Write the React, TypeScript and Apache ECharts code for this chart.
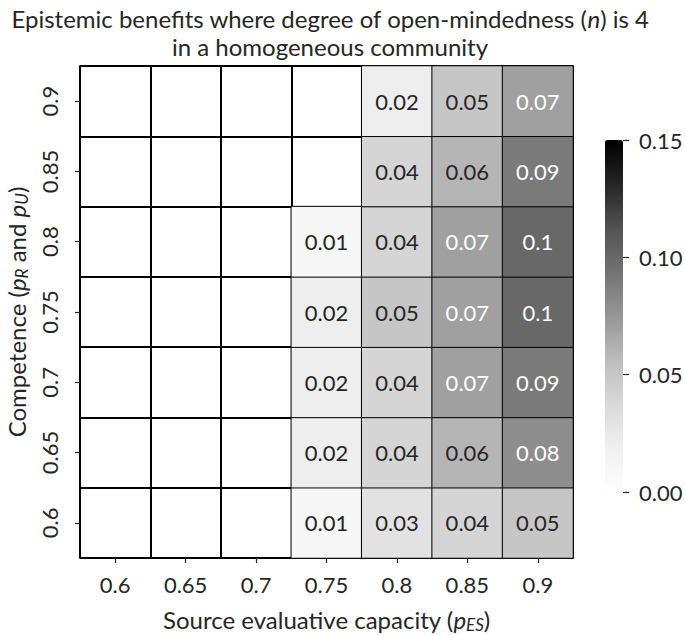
import React, { useEffect, useRef } from "react";
import * as echarts from "echarts";

const xCategories = ["0.6", "0.65", "0.7", "0.75", "0.8", "0.85", "0.9"];
const yCategories = ["0.6", "0.65", "0.7", "0.75", "0.8", "0.85", "0.9"];

// Rows from competence 0.6 (bottom) to 0.9 (top); columns follow xCategories
const row060 = [null, null, null, 0.01, 0.03, 0.04, 0.05];
const row065 = [null, null, null, 0.02, 0.04, 0.06, 0.08];
const row070 = [null, null, null, 0.02, 0.04, 0.07, 0.09];
const row075 = [null, null, null, 0.02, 0.05, 0.07, 0.1];
const row080 = [null, null, null, 0.01, 0.04, 0.07, 0.1];
const row085 = [null, null, null, null, 0.04, 0.06, 0.09];
const row090 = [null, null, null, null, 0.02, 0.05, 0.07];
const rows = [row060, row065, row070, row075, row080, row085, row090];

const colorbarTicks = [0, 0.05, 0.1, 0.15];
const vMin = 0;
const vMax = 0.15;

const greys = ["#ffffff", "#f0f0f0", "#d9d9d9", "#bdbdbd", "#969696", "#737373", "#525252", "#252525", "#000000"];

const FONT = "Lato, 'Open Sans', sans-serif";
const TEXT = "#262626";
const FS = 22;

function greyAt(v: number): number {
  const t = Math.max(0, Math.min(1, (v - vMin) / (vMax - vMin)));
  const pos = t * (greys.length - 1);
  const i = Math.min(greys.length - 2, Math.floor(pos));
  const f = pos - i;
  const a = parseInt(greys[i].slice(1, 3), 16);
  const b = parseInt(greys[i + 1].slice(1, 3), 16);
  return a + (b - a) * f;
}
function labelColor(v: number): string {
  const c = greyAt(v) / 255;
  const lin = c <= 0.03928 ? c / 12.92 : Math.pow((c + 0.055) / 1.055, 2.4);
  return lin > 0.408 ? TEXT : "#ffffff";
}

export default function App() {
  const ref = useRef<HTMLDivElement>(null);
  useEffect(() => {
    if (!ref.current) return;
    const chart = echarts.init(ref.current, null, { renderer: "svg" });
    const data: any[] = [];
    rows.forEach((row, yi) => {
      row.forEach((v, xi) => {
        if (v === null) return;
        data.push({
          value: [xi, yi, v],
          label: { color: labelColor(v) },
        });
      });
    });
    const nameRich = {
      n: { fontSize: 24, fontFamily: FONT, color: TEXT, lineHeight: 28 },
      i: { fontSize: 24, fontStyle: "italic", fontFamily: FONT, color: TEXT, lineHeight: 28 },
      s: { fontSize: 17, fontStyle: "italic", fontFamily: FONT, color: TEXT, verticalAlign: "bottom", lineHeight: 20 },
    };
    chart.setOption({
      animation: false,
      backgroundColor: "#ffffff",
      textStyle: { fontFamily: FONT },
      graphic: [
        {
          type: "text",
          x: 330,
          y: 4,
          style: {
            text: "Epistemic benefits where degree of open-mindedness ({i|n}) is 4\nin a homogeneous community",
            textAlign: "center",
            fontSize: 24,
            lineHeight: 28,
            fontFamily: FONT,
            fill: TEXT,
            rich: { i: { fontSize: 24, fontStyle: "italic", fontFamily: FONT, fill: TEXT, lineHeight: 28 } },
          },
        },
      ],
      grid: [
        {
          left: 80, top: 66, width: 493, height: 492, show: true, borderColor: "#000", borderWidth: 1.5,
          backgroundColor: "#fff", containLabel: false, outerBoundsMode: "none",
        },
        { left: 605, top: 140, width: 18, height: 352, show: false, containLabel: false, outerBoundsMode: "none" },
      ],
      xAxis: [
        {
          type: "category",
          data: xCategories,
          gridIndex: 0,
          axisLine: { show: false },
          axisTick: { show: true, alignWithLabel: true, length: 5, lineStyle: { color: TEXT, width: 1.2 } },
          axisLabel: { fontSize: FS, color: TEXT, margin: 15, fontFamily: FONT },
          splitLine: { show: true, lineStyle: { color: "#000", width: 2 } },
          name: "{n|Source evaluative capacity (}{i|p}{s|ES}{n|)}",
          nameLocation: "middle",
          nameGap: 47,
          nameTextStyle: { rich: nameRich },
        },
        { type: "category", data: [""], gridIndex: 1, show: false },
      ],
      yAxis: [
        {
          type: "category",
          data: yCategories,
          gridIndex: 0,
          axisLine: { show: false },
          axisTick: { show: true, alignWithLabel: true, length: 5, lineStyle: { color: TEXT, width: 1.2 } },
          axisLabel: { fontSize: FS, color: TEXT, margin: 20, rotate: 90, fontFamily: FONT },
          splitLine: { show: true, lineStyle: { color: "#000", width: 2 } },
          name: "{n|Competence (}{i|p}{s|R}{n| and }{i|p}{s|U}{n|)}",
          nameLocation: "middle",
          nameRotate: 90,
          nameGap: 48,
          nameTextStyle: { rich: nameRich },
        },
        {
          type: "value",
          gridIndex: 1,
          position: "right",
          min: vMin,
          max: vMax,
          interval: 0.05,
          axisLine: { show: false },
          axisTick: { show: true, length: 6, lineStyle: { color: TEXT, width: 1.2 } },
          axisLabel: {
            fontSize: FS,
            color: TEXT,
            margin: 16,
            fontFamily: FONT,
            formatter: (v: number) => (colorbarTicks.some((t) => Math.abs(t - v) < 1e-9) ? v.toFixed(2) : ""),
          },
          splitLine: { show: false },
        },
      ],
      visualMap: {
        type: "continuous",
        min: vMin,
        max: vMax,
        orient: "vertical",
        left: 605,
        top: 140,
        itemWidth: 18,
        itemHeight: 352,
        padding: 0,
        calculable: false,
        hoverLink: false,
        text: ["", ""],
        seriesIndex: 0,
        inRange: { color: greys },
      },
      series: [
        {
          type: "heatmap",
          xAxisIndex: 0,
          yAxisIndex: 0,
          data,
          itemStyle: { borderColor: "#000", borderWidth: 1 },
          label: {
            show: true,
            fontSize: FS,
            fontFamily: FONT,
            formatter: (p: any) => String(p.value[2]),
          },
          emphasis: { disabled: true },
        },
      ],
    });
    return () => chart.dispose();
  }, []);
  return <div ref={ref} style={{ position: "absolute", left: 0, top: 0, width: 685, height: 635 }} />;
}
